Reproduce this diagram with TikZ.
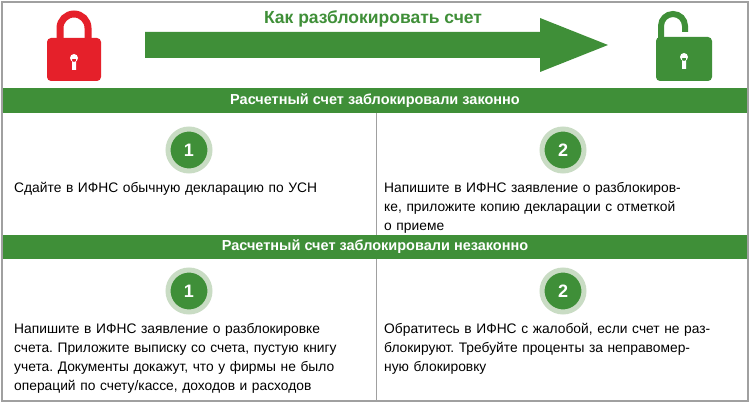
\documentclass[tikz,border=0pt]{standalone}
\usepackage{fontspec}
\setmainfont{Liberation Sans}
\frenchspacing
\definecolor{gr}{HTML}{3F8F38}
\definecolor{lgr}{HTML}{C9DCC4}
\definecolor{rd}{HTML}{E5202A}
\definecolor{frm}{HTML}{A0A0A0}
\tikzset{
 band/.style={fill=gr},
 bandtxt/.style={text=white,font=\bfseries\fontsize{14.5}{16}\selectfont},
 body/.style={anchor=north west,align=left,text width=365pt,inner sep=0pt,font=\fontsize{13.8}{19}\selectfont},
 num/.style={circle,fill=gr,draw=lgr,line width=5pt,minimum size=42pt,inner sep=0pt,text=white,font=\bfseries\fontsize{18}{18}\selectfont}
}
\begin{document}
\begin{tikzpicture}[x=1pt,y=-1pt]
\useasboundingbox (0,0) rectangle (750,403);
\fill[white] (0,0) rectangle (750,403);
\draw[frm,line width=1.5pt] (2,2) rectangle (748,401);
% red lock
\draw[rd,line width=7pt] (60,42) -- (60,28) arc[start angle=180,end angle=360,radius=14] -- (88,42);
\fill[rd,rounded corners=4pt] (47,38) rectangle (101,81);
\fill[white] (74,58) circle (4) (72,59) rectangle (76,70);
% arrow
\fill[gr] (145,32) -- (540,32) -- (540,18) -- (608,45) -- (540,72) -- (540,58) -- (145,58) -- cycle;
\node[text=gr,font=\bfseries\fontsize{17.5}{18}\selectfont] (title) at (373,19) {Как разблокировать счет};
% green lock
\draw[gr,line width=6pt] (661,38) -- (661,26) arc[start angle=180,end angle=360,radius=12] -- (685,32);
\fill[gr,rounded corners=4pt] (656,37) rectangle (712,81);
\fill[white] (684,57) circle (4) (682,58) rectangle (686,69);
% bands
\fill[band] (3,88) rectangle (747,113);
\node[bandtxt] (b1) at (375,101) {Расчетный счет заблокировали законно};
\fill[band] (3,235) rectangle (747,259);
\node[bandtxt] (b2) at (375,247) {Расчетный счет заблокировали незаконно};
\draw[frm,line width=0.6pt] (376,113) -- (376,235);
\draw[frm,line width=0.6pt] (376,259) -- (376,400);
% circles
\node[num] (c1) at (189,150) {1};
\node[num] (c2) at (563,150) {2};
\node[num] (c3) at (189,291) {1};
\node[num] (c4) at (563,291) {2};
% texts
\node[body] (t1) at (14,182) {Сдайте в ИФНС обычную декларацию по УСН};
\node[body] (t2) at (384,182) {Напишите в ИФНС заявление о разблокиров-\\ке, приложите копию декларации с отметкой\\о приеме};
\node[body] (t3) at (14,323) {Напишите в ИФНС заявление о разблокировке\\счета. Приложите выписку со счета, пустую книгу\\учета. Документы докажут, что у фирмы не было\\операций по счету/кассе, доходов и расходов};
\node[body] (t4) at (384,323) {Обратитесь в ИФНС с жалобой, если счет не раз-\\блокируют. Требуйте проценты за неправомер-\\ную блокировку};
\end{tikzpicture}
\end{document}
